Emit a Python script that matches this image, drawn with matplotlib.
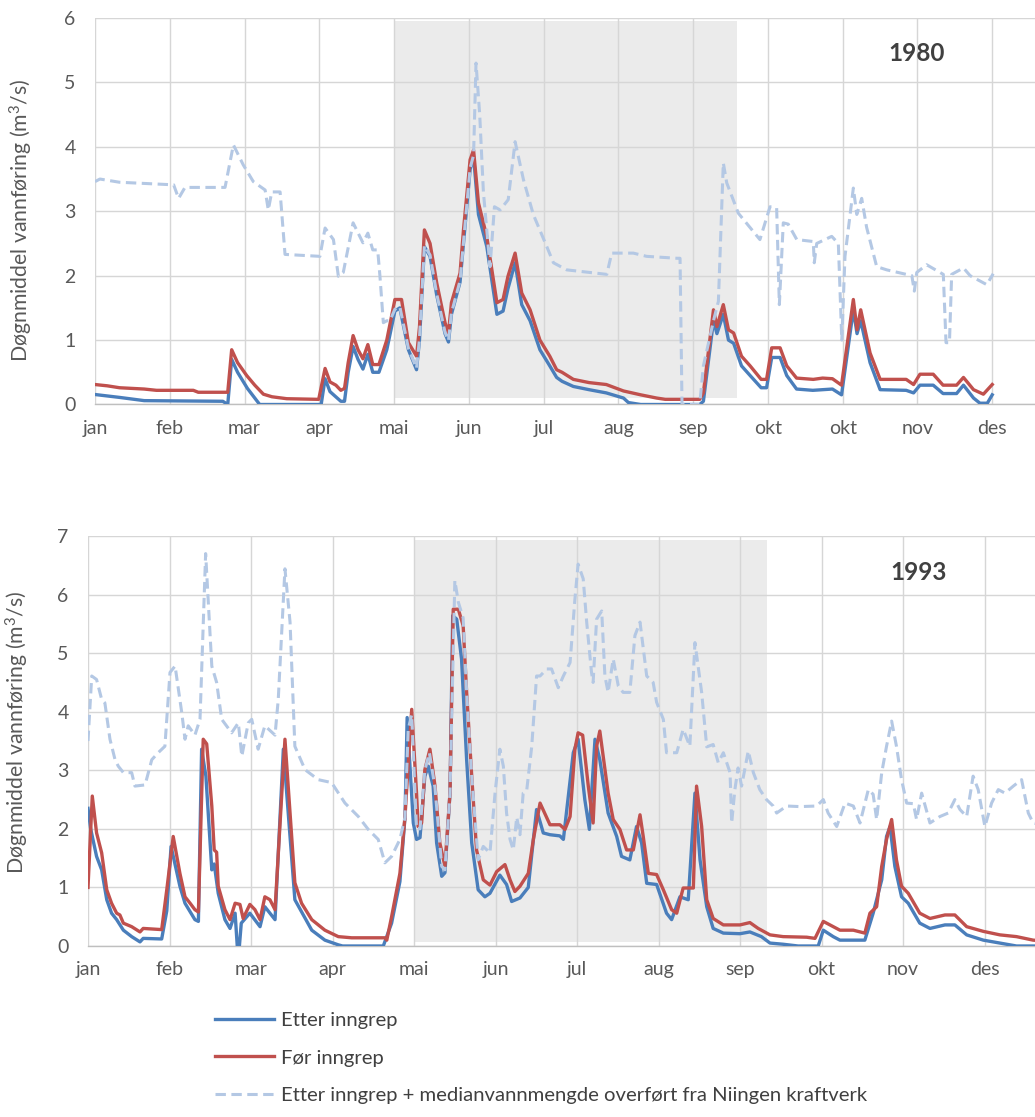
import matplotlib
matplotlib.use("Agg")
import matplotlib.pyplot as plt
from matplotlib.lines import Line2D

plt.rcParams['font.family'] = ['Lato', 'DejaVu Sans']
plt.rcParams['mathtext.default'] = 'regular'

# ---------------- data (day of year, m3/s) ----------------
months_1980 = ['jan', 'feb', 'mar', 'apr', 'mai', 'jun', 'jul', 'aug', 'sep', 'okt', 'okt', 'nov', 'des']
months_1993 = ['jan', 'feb', 'mar', 'apr', 'mai', 'jun', 'jul', 'aug', 'sep', 'okt', 'nov', 'des']

r80_day = [0, 5, 10, 20, 25, 40, 42, 54, 55.6, 58, 61.7, 65, 68.5, 72, 78, 91, 93.6, 95.6, 98, 100, 101.5, 103, 105, 107, 109, 111, 113, 115.5, 118.7, 122, 124.7, 127.5, 130.8, 132, 134, 136.3, 139, 142.4, 143.8, 145, 148.5, 149.9, 152.6, 154, 156, 159.4, 163.5, 166, 168, 170.9, 173.6, 177, 181, 185, 187.8, 190, 194.6, 201, 208, 215, 222, 228.5, 232, 246, 247.5, 251.6, 253, 255.6, 257.7, 259.8, 263, 266.5, 271, 273.2, 275.3, 278.7, 281.4, 285.4, 292.2, 296, 300, 303.7, 308.5, 310, 311.5, 315.3, 319.4, 330, 333, 335.6, 341, 345, 350.5, 353.3, 357.4, 361.4, 365]
r80_q = [0.31, 0.29, 0.26, 0.24, 0.22, 0.22, 0.19, 0.19, 0.85, 0.65, 0.45, 0.3, 0.16, 0.12, 0.09, 0.08, 0.56, 0.35, 0.3, 0.22, 0.25, 0.65, 1.07, 0.85, 0.71, 0.93, 0.62, 0.62, 1.0, 1.63, 1.63, 0.96, 0.75, 1.2, 2.71, 2.5, 1.89, 1.27, 1.11, 1.58, 2.04, 2.71, 3.8, 3.95, 3.13, 2.6, 1.58, 1.63, 1.99, 2.35, 1.73, 1.47, 1.0, 0.75, 0.54, 0.5, 0.39, 0.34, 0.31, 0.21, 0.15, 0.1, 0.08, 0.08, 0.18, 1.47, 1.21, 1.55, 1.16, 1.11, 0.75, 0.6, 0.39, 0.39, 0.88, 0.88, 0.6, 0.41, 0.39, 0.41, 0.4, 0.3, 1.63, 1.16, 1.47, 0.8, 0.39, 0.39, 0.31, 0.47, 0.47, 0.3, 0.3, 0.42, 0.23, 0.16, 0.31]

b80_day = [0, 10, 20, 52, 54, 55.6, 58, 62, 67, 92, 93.6, 95.6, 100, 101.5, 103, 105, 107, 109, 111, 113, 115.5, 118.7, 122, 124, 127.5, 130.8, 132, 134, 136.3, 139, 142.4, 143.8, 145, 148.5, 149.9, 152.6, 154, 156, 159.4, 163.5, 166, 168, 170.9, 173.6, 177, 181, 185, 187.8, 190, 194.6, 201, 208, 215, 217, 222, 246, 247.5, 251.6, 253, 255.6, 257.7, 259.8, 263, 266.5, 271, 273.2, 275.3, 278.7, 281.4, 285.4, 292, 300, 303.7, 308.5, 310, 311.5, 315.3, 319.4, 330, 333, 335.6, 341, 345, 350.5, 353.3, 357.4, 360, 363, 365]
b80_q = [0.155, 0.11, 0.06, 0.05, 0.0, 0.7, 0.5, 0.25, 0.0, 0.0, 0.4, 0.2, 0.05, 0.05, 0.5, 0.9, 0.7, 0.55, 0.78, 0.5, 0.5, 0.85, 1.45, 1.5, 0.85, 0.54, 1.0, 2.45, 2.3, 1.7, 1.1, 0.97, 1.4, 1.9, 2.5, 3.65, 3.85, 2.95, 2.45, 1.4, 1.45, 1.8, 2.2, 1.55, 1.3, 0.85, 0.6, 0.42, 0.36, 0.28, 0.23, 0.18, 0.1, 0.03, 0.0, 0.0, 0.05, 1.3, 1.1, 1.4, 1.0, 0.95, 0.6, 0.45, 0.26, 0.26, 0.73, 0.73, 0.45, 0.24, 0.22, 0.24, 0.15, 1.47, 1.1, 1.3, 0.65, 0.23, 0.22, 0.18, 0.3, 0.3, 0.17, 0.17, 0.3, 0.1, 0.02, 0.02, 0.15]

d80_day = [0, 2, 10, 32, 34, 36.6, 52.9, 56.3, 60.3, 64.4, 69.2, 70.5, 71.9, 75.3, 77.3, 91.5, 93.6, 97, 99, 101, 105, 109, 111, 113, 115, 115.9, 117.3, 118.7, 120, 122, 124, 127.5, 130.8, 132, 134, 136.3, 139, 142.4, 143.8, 145, 148.5, 149.9, 152.6, 154, 155, 156.5, 158, 160.7, 162.5, 164.8, 168.1, 170.9, 174.3, 178.3, 183.8, 186.5, 191.9, 208.2, 210.2, 219, 224.4, 236.7, 238, 238.8, 246, 247.5, 250.2, 251.6, 253.6, 255.6, 257, 261.7, 270.5, 274.6, 277.3, 278.4, 280, 282, 285.5, 292.2, 292.6, 293.6, 299.7, 302.4, 303.8, 305.1, 308.5, 309.9, 311.9, 313.9, 318, 322.1, 332.3, 333.3, 334.3, 338.3, 345.1, 346.2, 347.6, 348.5, 353.3, 356, 362.8, 365.4]
d80_q = [3.46, 3.5, 3.45, 3.41, 3.2, 3.37, 3.37, 4.03, 3.72, 3.46, 3.33, 3.02, 3.3, 3.3, 2.33, 2.3, 2.74, 2.56, 1.99, 2.05, 2.82, 2.51, 2.66, 2.4, 2.4, 2.0, 1.27, 1.3, 1.3, 1.48, 1.52, 0.87, 0.56, 1.02, 2.47, 2.32, 1.72, 1.12, 0.99, 1.42, 1.92, 2.52, 3.67, 3.87, 5.3, 4.5, 3.3, 2.14, 3.07, 3.02, 3.18, 4.08, 3.49, 2.95, 2.45, 2.2, 2.09, 2.02, 2.35, 2.35, 2.3, 2.27, 2.27, 0.0, 0.0, 0.6, 1.06, 1.3, 1.6, 3.75, 3.44, 2.97, 2.56, 3.07, 3.05, 1.55, 2.82, 2.8, 2.56, 2.53, 2.2, 2.5, 2.61, 2.5, 1.0, 2.3, 3.36, 2.95, 3.2, 2.75, 2.14, 2.09, 2.0, 1.76, 2.05, 2.17, 2.02, 0.96, 0.96, 2.02, 2.12, 2.0, 1.86, 2.03]

r93_day = [0, 1.6, 3.2, 5.1, 7.0, 8.8, 10.7, 11.9, 13.2, 16.3, 19.4, 20.6, 27.5, 29.4, 31.8, 34.3, 36.2, 38.1, 39.9, 41.2, 43.0, 44.3, 46.2, 47.1, 48.0, 48.6, 51.1, 53.0, 54.9, 56.7, 57.9, 60.4, 62.3, 64.2, 66.0, 67.9, 69.8, 73.5, 77.2, 79.7, 83.5, 88.4, 93.4, 98.4, 110.8, 111.5, 113.3, 116.4, 118.3, 120.8, 122.6, 123.2, 124.5, 125.7, 127.6, 129.5, 131.3, 133.2, 135.1, 136.3, 138.2, 140.0, 141.3, 143.2, 145.0, 147.5, 150.0, 152.5, 155.6, 157.5, 159.3, 161.2, 164.3, 166.2, 168.7, 172.4, 176.1, 178.0, 179.9, 181.7, 182.9, 184.6, 186.7, 188.5, 189.8, 191.0, 194.1, 196.0, 198.5, 201.0, 203.5, 206.0, 207.2, 209.1, 212.2, 214.7, 217.8, 219.7, 222.1, 225.9, 227.1, 229.0, 230.9, 233.3, 237.1, 243.3, 247, 250.1, 254.5, 259.4, 268.2, 271.3, 274.4, 276.9, 280.6, 285.6, 289.9, 291.8, 294.3, 296.2, 298, 299.9, 301.7, 303.6, 306.1, 310.4, 314.2, 319.8, 323.5, 327.9, 334.1, 340.3, 346.5, 352.7, 358]
r93_q = [1.0, 2.56, 1.93, 1.59, 0.96, 0.73, 0.56, 0.53, 0.39, 0.33, 0.24, 0.30, 0.28, 0.96, 1.87, 1.24, 0.84, 0.73, 0.62, 0.58, 3.53, 3.45, 2.39, 1.64, 1.6, 1.02, 0.62, 0.45, 0.73, 0.71, 0.47, 0.71, 0.62, 0.45, 0.84, 0.79, 0.62, 3.53, 1.08, 0.73, 0.45, 0.27, 0.16, 0.14, 0.14, 0.1, 0.5, 1.24, 2.21, 4.04, 2.61, 2.04, 2.1, 3.01, 3.36, 2.73, 1.76, 1.36, 2.62, 5.75, 5.75, 5.47, 4.33, 2.9, 1.64, 1.13, 1.04, 1.27, 1.39, 1.13, 0.93, 1.02, 1.24, 1.82, 2.44, 2.07, 2.07, 1.99, 2.21, 3.36, 3.64, 3.6, 2.73, 2.1, 3.41, 3.67, 2.61, 2.16, 1.99, 1.64, 1.64, 2.24, 1.87, 1.24, 1.22, 0.96, 0.62, 0.56, 0.99, 0.99, 2.73, 2.04, 0.79, 0.47, 0.36, 0.36, 0.4, 0.3, 0.19, 0.16, 0.15, 0.13, 0.42, 0.36, 0.27, 0.27, 0.22, 0.56, 0.67, 1.36, 1.82, 2.16, 1.47, 1.02, 0.9, 0.56, 0.47, 0.53, 0.53, 0.33, 0.25, 0.19, 0.16, 0.1, 0.08]

b93_day = [0, 1.0, 3.2, 5.1, 7.0, 8.8, 10.7, 13.2, 16.3, 19.4, 20.6, 27.5, 29.4, 31.0, 34.3, 36.2, 39.9, 41.2, 42.4, 44.0, 46.2, 47.1, 48.6, 51.1, 53.0, 54.9, 55.7, 56.5, 57.2, 60.4, 64.2, 66.0, 69.8, 72.9, 77.2, 83.5, 88.4, 93.4, 95, 110.2, 113.3, 116.4, 118.3, 119.1, 121.4, 122.6, 123.9, 125.7, 127.0, 128.8, 130.1, 132.0, 133.2, 135.1, 136.1, 137.6, 139.4, 141.3, 143.2, 145.6, 148.1, 150.0, 153.7, 156.2, 158.1, 161.2, 164.3, 167.4, 169.9, 172.4, 176.1, 177.4, 181.1, 182.9, 185.4, 187.1, 189.2, 191.0, 194.1, 197.3, 199.1, 202.2, 204.7, 206.6, 208.5, 212.2, 215.9, 217.8, 220.9, 224.0, 226.5, 228.4, 230.9, 233.3, 237.1, 243.3, 247, 251.3, 254.5, 259.4, 265, 272.5, 274.4, 278.1, 280.6, 289.9, 293, 296.2, 298, 299.3, 301.1, 303.6, 306.1, 310.4, 314.2, 319.8, 323.5, 327.9, 334.1, 340.3, 346.5, 358]
b93_q = [2.35, 2.0, 1.53, 1.3, 0.79, 0.56, 0.45, 0.27, 0.16, 0.07, 0.13, 0.12, 0.6, 1.7, 1.02, 0.73, 0.45, 0.42, 3.36, 2.9, 1.3, 1.4, 0.9, 0.45, 0.3, 0.56, 0.0, 0.0, 0.39, 0.56, 0.33, 0.67, 0.45, 3.36, 0.79, 0.27, 0.1, 0.02, 0.0, 0.0, 0.39, 1.1, 2.2, 3.9, 2.1, 1.82, 1.85, 2.9, 3.07, 2.73, 1.76, 1.19, 1.25, 2.62, 5.64, 5.58, 4.9, 3.18, 1.76, 0.96, 0.84, 0.9, 1.21, 1.05, 0.76, 0.82, 1.0, 2.33, 1.93, 1.9, 1.88, 1.82, 3.3, 3.53, 2.5, 1.99, 3.53, 3.18, 2.27, 1.87, 1.53, 1.47, 2.04, 1.76, 1.07, 1.05, 0.56, 0.45, 0.84, 0.79, 2.61, 1.47, 0.67, 0.3, 0.22, 0.21, 0.24, 0.16, 0.05, 0.03, 0.0, 0.0, 0.27, 0.16, 0.1, 0.1, 0.56, 1.13, 1.87, 2.04, 1.36, 0.84, 0.73, 0.39, 0.3, 0.36, 0.36, 0.19, 0.1, 0.05, 0.0, 0.0]

d93_day = [0, 1.4, 3.2, 5.1, 6.3, 8.2, 10.1, 11.3, 13.2, 16.3, 17.5, 21.3, 23.8, 26.2, 28.7, 30.6, 32.5, 35.0, 36.2, 37.4, 39.9, 41.8, 43.9, 46.2, 48.0, 49.9, 53.6, 56.1, 57.4, 59.8, 61.1, 63.5, 66.0, 69.8, 71.0, 73.5, 75.4, 77.2, 81.0, 85.9, 90.9, 95.9, 100.9, 104.6, 108.3, 110.8, 113.3, 116.4, 118.3, 119.5, 120.8, 122.6, 123.9, 125.7, 127.4, 129.5, 132.0, 133.2, 135.1, 136.9, 138.2, 140.0, 141.3, 143.2, 145.6, 147.5, 150.0, 151.9, 153.7, 155.0, 156.2, 157.5, 158.7, 160.0, 161.2, 162.4, 163.7, 165.6, 167.4, 168.7, 171.2, 173.0, 175.5, 177.4, 179.9, 181.7, 182.9, 184.8, 186.1, 187.9, 188.5, 189.8, 191.7, 192.9, 194.1, 196.0, 197.9, 199.7, 202.2, 204.1, 206.0, 208.5, 210.9, 212.2, 214.7, 215.9, 219.7, 222.1, 224.6, 226.5, 229.0, 230.9, 233.3, 235.2, 237.1, 239.6, 240.2, 241.4, 242.6, 243.9, 246.4, 248.3, 250.7, 253.2, 255.7, 257, 260.7, 265.7, 271.9, 274.4, 276.2, 279.4, 282.5, 285.6, 288.1, 291.2, 293, 294.3, 296.2, 298, 299.9, 301.7, 303.6, 305.5, 308, 309.2, 311.1, 314.2, 317.9, 321, 323.5, 325.4, 327.9, 330.3, 332.2, 334.7, 337.2, 339.7, 342.2, 345.3, 348.4, 350.9, 352.7, 358]
d93_q = [3.5, 4.61, 4.55, 4.21, 4.15, 3.53, 3.18, 3.07, 2.96, 2.96, 2.73, 2.75, 3.18, 3.3, 3.41, 4.67, 4.78, 3.98, 3.53, 3.76, 3.6, 3.87, 6.7, 4.78, 4.5, 3.87, 3.64, 3.81, 3.24, 3.81, 3.87, 3.36, 3.76, 3.6, 4.21, 6.44, 5.53, 3.41, 3.01, 2.84, 2.79, 2.44, 2.21, 1.99, 1.82, 1.42, 1.53, 1.82, 2.2, 3.7, 3.95, 2.0, 2.0, 3.0, 3.3, 2.7, 1.36, 1.3, 2.62, 6.24, 5.87, 5.6, 4.33, 2.9, 1.47, 1.7, 1.59, 2.61, 3.36, 3.07, 2.27, 1.82, 1.64, 2.2, 1.9, 2.61, 2.65, 3.41, 4.61, 4.61, 4.73, 4.73, 4.41, 4.61, 4.84, 5.92, 6.52, 6.27, 5.53, 4.67, 4.5, 5.58, 5.72, 4.61, 4.33, 4.9, 4.44, 4.33, 4.33, 5.3, 5.53, 4.61, 4.5, 4.16, 3.87, 3.3, 3.3, 3.7, 3.41, 5.18, 4.33, 3.4, 3.44, 3.13, 3.3, 2.96, 2.1, 2.67, 3.04, 2.73, 3.33, 2.96, 2.67, 2.5, 2.39, 2.27, 2.39, 2.38, 2.39, 2.5, 2.27, 2.04, 2.44, 2.39, 2.1, 2.67, 2.59, 2.16, 2.96, 3.41, 3.84, 3.41, 2.84, 2.44, 2.43, 2.16, 2.61, 2.1, 2.21, 2.27, 2.5, 2.33, 2.21, 2.9, 2.67, 2.04, 2.44, 2.67, 2.61, 2.73, 2.84, 2.27, 2.1, 2.05]

# shaded period (day of year, flow range)
shade_1980 = (121.7, 261.2, 0.1, 5.96)
shade_1993 = (121.7, 253.5, 0.07, 6.93)

legend_labels = ['Etter inngrep', 'Før inngrep',
                 'Etter inngrep + medianvannmengde overført fra Niingen kraftverk']

# ---------------- styling ----------------
C_BLUE = '#4a7ebb'
C_RED = '#c0504d'
C_DASH = '#b4c8e4'
GRID = '#d6d6d6'
TXT = '#595959'
MONTH = 365 / 12

fig = plt.figure(figsize=(10.35, 11.17), dpi=100)
ax1 = fig.add_axes([0.09179, 0.63787, 0.90821, 0.34602])
ax2 = fig.add_axes([0.08502, 0.15309, 0.91498, 0.36705])


def style(ax, ymax, xmax, nticks, labels, shade, year, yx, yy):
    ax.set_xlim(0, xmax)
    ax.set_ylim(0, ymax)
    ax.set_yticks(range(0, ymax + 1))
    ax.set_xticks([i * MONTH for i in range(nticks)])
    ax.set_xticklabels(labels)
    ax.grid(True, color=GRID, lw=1.0)
    ax.set_axisbelow(True)
    for s in ['top', 'right', 'left']:
        ax.spines[s].set_visible(False)
    ax.spines['bottom'].set_color('#bfbfbf')
    ax.spines['bottom'].set_linewidth(1.0)
    ax.tick_params(length=0, labelsize=14, colors=TXT)
    ax.tick_params(axis='y', pad=14)
    ax.tick_params(axis='x', pad=11)
    x0, x1, y0, y1 = shade
    ax.fill_between([x0, x1], [y0, y0], [y1, y1], color='#ebebeb', lw=0, zorder=0.2)
    ax.set_ylabel('Døgnmiddel vannføring (m$^{3}$/s)', fontsize=15.3, color=TXT)
    ax.text(yx, yy, year, transform=ax.transAxes,
            fontsize=17.5, fontweight='bold', color='#404040', ha='center', va='center')


style(ax1, 6, 382.4, 13, months_1980, shade_1980, '1980', 0.8745, 0.909)
style(ax2, 7, 353.4, 12, months_1993, shade_1993, '1993', 0.8775, 0.912)
ax1.yaxis.set_label_coords(-0.064, 0.475)
ax2.yaxis.set_label_coords(-0.060, 0.522)

for ax, (bd, bq), (rd, rq), (dd, dq) in [
        (ax1, (b80_day, b80_q), (r80_day, r80_q), (d80_day, d80_q)),
        (ax2, (b93_day, b93_q), (r93_day, r93_q), (d93_day, d93_q))]:
    ax.plot(bd, bq, color=C_BLUE, lw=2.4, solid_joinstyle='round', zorder=3)
    ax.plot(rd, rq, color=C_RED, lw=2.4, solid_joinstyle='round', zorder=4)
    ax.plot(dd, dq, color=C_DASH, lw=2.2, dashes=(3.4, 1.8), zorder=5)

handles = [Line2D([], [], color=C_BLUE, lw=2.4),
           Line2D([], [], color=C_RED, lw=2.4),
           Line2D([], [], color=C_DASH, lw=2.2, dashes=(3.4, 1.8))]
fig.legend(handles, legend_labels, loc='upper left', bbox_to_anchor=(0.2077, 0.0945),
           frameon=False, fontsize=14.6, labelcolor='#404040', handlelength=2.9,
           handletextpad=0.38, labelspacing=1.02, borderaxespad=0, borderpad=0)

fig.savefig('out.png', dpi=100)
